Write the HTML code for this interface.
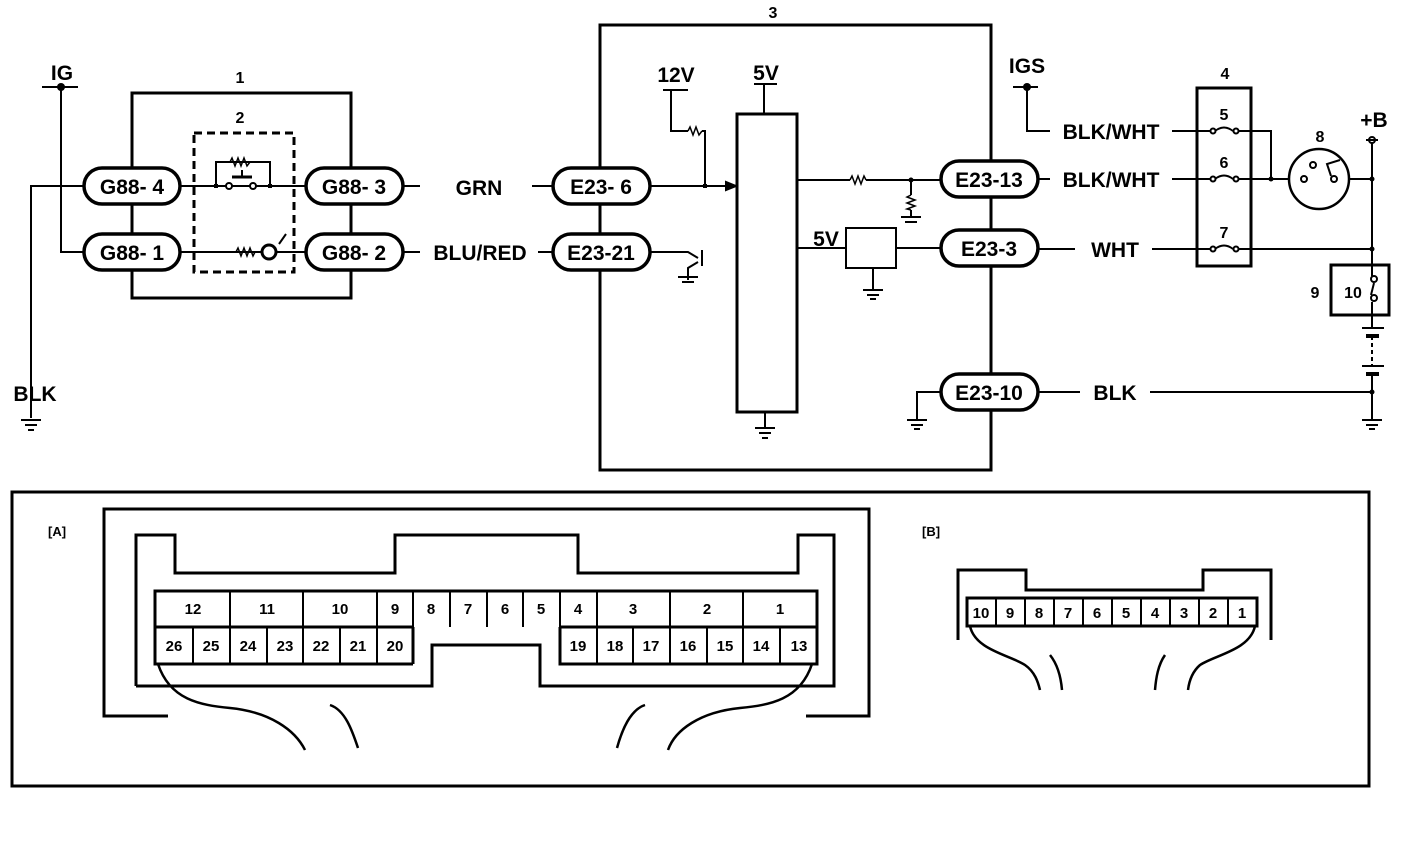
<!DOCTYPE html>
<html><head><style>
html,body{margin:0;padding:0;background:#fff;}
svg{display:block;}
text{font-family:"Liberation Sans",Arial,sans-serif;fill:#000;}
</style></head><body>
<svg width="1408" height="842" viewBox="0 0 1408 842" xmlns="http://www.w3.org/2000/svg">
<g fill="none" stroke="#000" stroke-width="2">
<line x1="42" y1="87" x2="78" y2="87"/>
<polyline points="61,87 61,252 85,252"/>
<polyline points="85,186 31,186 31,418"/>
<rect x="132" y="93" width="219" height="205" stroke-width="3"/>
<rect x="194" y="133" width="100" height="139" stroke-width="3" stroke-dasharray="8,5"/>
<line x1="180" y1="186" x2="305" y2="186"/>
<polyline points="216,186 216,162 270,162 270,186"/>
<line x1="180" y1="252" x2="305" y2="252"/>
<circle cx="229" cy="186" r="3" fill="#fff"/>
<circle cx="253" cy="186" r="3" fill="#fff"/>
<line x1="232" y1="177" x2="252" y2="177" stroke-width="3"/>
<line x1="242" y1="177" x2="242" y2="170"/>
<circle cx="269" cy="252" r="7" stroke-width="3" fill="#fff"/>
<line x1="279" y1="244" x2="286" y2="234"/>
<line x1="403" y1="186" x2="420" y2="186"/>
<line x1="403" y1="252" x2="420" y2="252"/>
<line x1="532" y1="186" x2="553" y2="186"/>
<line x1="538" y1="252" x2="553" y2="252"/>
<rect x="600" y="25" width="391" height="445" stroke-width="3"/>
<line x1="663" y1="90" x2="688" y2="90"/>
<polyline points="671,90 671,131 688,131"/>
<polyline points="702,131 705,131 705,186"/>
<line x1="650" y1="186" x2="728" y2="186"/>
<polygon points="736,186 726,182 726,190" fill="#000"/>
<line x1="754" y1="84" x2="777" y2="84"/>
<line x1="764" y1="84" x2="764" y2="114"/>
<rect x="737" y="114" width="60" height="298" stroke-width="3"/>
<line x1="765" y1="412" x2="765" y2="428"/>
<line x1="797" y1="180" x2="850" y2="180"/>
<line x1="866" y1="180" x2="941" y2="180"/>
<line x1="911" y1="180" x2="911" y2="195"/>
<line x1="911" y1="210" x2="911" y2="217"/>
<line x1="797" y1="248" x2="846" y2="248"/>
<rect x="846" y="228" width="50" height="40"/>
<line x1="896" y1="248" x2="941" y2="248"/>
<line x1="873" y1="268" x2="873" y2="290"/>
<polyline points="650,252 688,252 698,258"/>
<line x1="702" y1="250" x2="702" y2="266"/>
<polyline points="698,262 688,268 688,280"/>
<polyline points="941,392 917,392 917,420"/>
<line x1="1013" y1="87" x2="1038" y2="87"/>
<polyline points="1027,87 1027,131 1050,131"/>
<line x1="1172" y1="131" x2="1210" y2="131"/>
<line x1="1038" y1="179" x2="1050" y2="179"/>
<line x1="1172" y1="179" x2="1210" y2="179"/>
<line x1="1038" y1="249" x2="1075" y2="249"/>
<line x1="1152" y1="249" x2="1210" y2="249"/>
<rect x="1197" y="88" width="54" height="178" stroke-width="3"/>
<polyline points="1238,131 1271,131 1271,179"/>
<line x1="1238" y1="179" x2="1290" y2="179"/>
<line x1="1348" y1="179" x2="1372" y2="179"/>
<line x1="1238" y1="249" x2="1372" y2="249"/>
<circle cx="1319" cy="179" r="30" stroke-width="2.5"/>
<circle cx="1304" cy="179" r="3" fill="#fff"/>
<circle cx="1334" cy="179" r="3" fill="#fff"/>
<circle cx="1313" cy="165" r="3" fill="#fff"/>
<polyline points="1331,176 1327,164 1340,160"/>
<circle cx="1372" cy="140" r="3" fill="#fff"/>
<line x1="1366" y1="140" x2="1378" y2="140"/>
<line x1="1372" y1="143" x2="1372" y2="276"/>
<rect x="1331" y="265" width="58" height="50" stroke-width="3"/>
<circle cx="1374" cy="279" r="3" fill="#fff"/>
<circle cx="1374" cy="298" r="3" fill="#fff"/>
<line x1="1374" y1="283" x2="1371" y2="295"/>
<line x1="1372" y1="302" x2="1372" y2="328"/>
<line x1="1362" y1="328" x2="1384" y2="328"/>
<line x1="1366" y1="336" x2="1379" y2="336" stroke-width="4"/>
<line x1="1372" y1="336" x2="1372" y2="366" stroke-dasharray="4,3"/>
<line x1="1362" y1="366" x2="1384" y2="366"/>
<line x1="1366" y1="374" x2="1379" y2="374" stroke-width="4"/>
<line x1="1372" y1="374" x2="1372" y2="420"/>
<line x1="1038" y1="392" x2="1080" y2="392"/>
<line x1="1150" y1="392" x2="1372" y2="392"/>
</g>
<g fill="none" stroke="#000" stroke-width="1.5">
<polyline points="230,162 232,158 235,166 238,158 241,166 244,158 247,166 250,162"/>
<polyline points="236,252 238,248 241,256 244,248 247,256 250,248 253,256 255,252"/>
<polyline points="688,131 690,127 693,135 696,127 699,135 702,131"/>
<polyline points="850,180 852,176 855,184 858,176 861,184 864,176 866,180"/>
<polyline points="911,195 907,197 915,200 907,203 915,206 907,209 911,210"/>
</g>
<g fill="#000">
<circle cx="61" cy="87" r="4"/><circle cx="1027" cy="87" r="4"/>
<rect x="214" y="184" width="4" height="4"/><rect x="268" y="184" width="4" height="4"/>
<rect x="703" y="184" width="4" height="4"/>
<circle cx="911" cy="180" r="2.5"/><circle cx="1271" cy="179" r="2.5"/>
<circle cx="1372" cy="179" r="2.5"/><circle cx="1372" cy="249" r="2.5"/><circle cx="1372" cy="392" r="2.5"/>
</g>
<g fill="none" stroke="#000" stroke-width="2">
<circle cx="1213" cy="131" r="2.5" fill="#fff"/><circle cx="1236" cy="131" r="2.5" fill="#fff"/><path d="M1215,131 Q1224,124 1233,131"/>
<circle cx="1213" cy="179" r="2.5" fill="#fff"/><circle cx="1236" cy="179" r="2.5" fill="#fff"/><path d="M1215,179 Q1224,172 1233,179"/>
<circle cx="1213" cy="249" r="2.5" fill="#fff"/><circle cx="1236" cy="249" r="2.5" fill="#fff"/><path d="M1215,249 Q1224,242 1233,249"/>
</g>
<g stroke="#000" stroke-width="2">
<line x1="21" y1="420" x2="41" y2="420"/><line x1="25" y1="425" x2="37" y2="425"/><line x1="28" y1="430" x2="34" y2="430"/>
<line x1="755" y1="428" x2="775" y2="428"/><line x1="759" y1="433" x2="771" y2="433"/><line x1="762" y1="438" x2="768" y2="438"/>
<line x1="901" y1="217" x2="921" y2="217"/><line x1="905" y1="222" x2="917" y2="222"/>
<line x1="863" y1="290" x2="883" y2="290"/><line x1="867" y1="295" x2="879" y2="295"/><line x1="870" y1="299" x2="876" y2="299"/>
<line x1="678" y1="277" x2="698" y2="277"/><line x1="682" y1="282" x2="694" y2="282"/>
<line x1="907" y1="420" x2="927" y2="420"/><line x1="911" y1="425" x2="923" y2="425"/><line x1="914" y1="429" x2="920" y2="429"/>
<line x1="1362" y1="420" x2="1382" y2="420"/><line x1="1366" y1="425" x2="1378" y2="425"/><line x1="1369" y1="429" x2="1375" y2="429"/>
</g>
<g fill="#fff" stroke="#000" stroke-width="3.5">
<rect x="84" y="168" width="96" height="36" rx="18"/>
<rect x="84" y="234" width="96" height="36" rx="18"/>
<rect x="306" y="168" width="97" height="36" rx="18"/>
<rect x="306" y="234" width="97" height="36" rx="18"/>
<rect x="553" y="168" width="97" height="36" rx="18"/>
<rect x="553" y="234" width="97" height="36" rx="18"/>
<rect x="941" y="161" width="97" height="36" rx="18"/>
<rect x="941" y="230" width="97" height="36" rx="18"/>
<rect x="941" y="374" width="97" height="36" rx="18"/>
</g>
<g font-size="21" text-anchor="middle" font-weight="bold">
<text x="132" y="194">G88- 4</text><text x="132" y="260">G88- 1</text>
<text x="354" y="194">G88- 3</text><text x="354" y="260">G88- 2</text>
<text x="601" y="194">E23- 6</text><text x="601" y="260">E23-21</text>
<text x="989" y="187">E23-13</text><text x="989" y="256">E23-3</text><text x="989" y="400">E23-10</text>
<text x="479" y="195">GRN</text><text x="480" y="260">BLU/RED</text>
<text x="35" y="401">BLK</text><text x="62" y="80">IG</text>
<text x="1111" y="139">BLK/WHT</text><text x="1111" y="187">BLK/WHT</text>
<text x="1115" y="257">WHT</text><text x="1115" y="400">BLK</text>
<text x="1027" y="73">IGS</text><text x="1374" y="127">+B</text>
<text x="676" y="82">12V</text><text x="766" y="80">5V</text><text x="826" y="246">5V</text>
</g>
<g font-size="16" text-anchor="middle" font-weight="bold">
<text x="240" y="83">1</text><text x="240" y="123">2</text><text x="773" y="18">3</text>
<text x="1225" y="79">4</text><text x="1224" y="120">5</text><text x="1224" y="168">6</text><text x="1224" y="238">7</text>
<text x="1320" y="142">8</text><text x="1315" y="298">9</text><text x="1353" y="298">10</text>
</g>
<rect x="12" y="492" width="1357" height="294" fill="none" stroke="#000" stroke-width="3"/>
<g font-size="13" font-weight="bold"><text x="48" y="536">[A]</text><text x="922" y="536">[B]</text></g>
<g fill="none" stroke="#000" stroke-width="3">
<polyline points="168,716 104,716 104,509 869,509 869,716 806,716"/>
<polyline points="136,686 136,535 175,535 175,573 395,573 395,535 578,535 578,573 798,573 798,535 834,535 834,686 540,686 540,645 432,645 432,686 136,686"/>
<polyline points="413,664 155,664 155,591 817,591 817,664 560,664 560,627"/>
<line x1="155" y1="627" x2="413" y2="627"/>
<line x1="560" y1="627" x2="817" y2="627"/>
<line x1="413" y1="627" x2="413" y2="664"/>
</g>
<g stroke="#000" stroke-width="2">
<line x1="230" y1="591" x2="230" y2="664"/><line x1="303" y1="591" x2="303" y2="664"/><line x1="377" y1="591" x2="377" y2="664"/>
<line x1="413" y1="591" x2="413" y2="627"/><line x1="450" y1="591" x2="450" y2="627"/><line x1="487" y1="591" x2="487" y2="627"/>
<line x1="523" y1="591" x2="523" y2="627"/><line x1="560" y1="591" x2="560" y2="627"/><line x1="597" y1="591" x2="597" y2="664"/>
<line x1="670" y1="591" x2="670" y2="664"/><line x1="743" y1="591" x2="743" y2="664"/>
<line x1="193" y1="627" x2="193" y2="664"/><line x1="267" y1="627" x2="267" y2="664"/><line x1="340" y1="627" x2="340" y2="664"/>
<line x1="633" y1="627" x2="633" y2="664"/><line x1="707" y1="627" x2="707" y2="664"/><line x1="780" y1="627" x2="780" y2="664"/>
</g>
<g font-size="15" font-weight="bold" text-anchor="middle">
<text x="193" y="614">12</text><text x="267" y="614">11</text><text x="340" y="614">10</text><text x="395" y="614">9</text>
<text x="431" y="614">8</text><text x="468" y="614">7</text><text x="505" y="614">6</text><text x="541" y="614">5</text>
<text x="578" y="614">4</text><text x="633" y="614">3</text><text x="707" y="614">2</text><text x="780" y="614">1</text>
<text x="174" y="651">26</text><text x="211" y="651">25</text><text x="248" y="651">24</text><text x="285" y="651">23</text>
<text x="321" y="651">22</text><text x="358" y="651">21</text><text x="395" y="651">20</text>
<text x="578" y="651">19</text><text x="615" y="651">18</text><text x="651" y="651">17</text><text x="688" y="651">16</text>
<text x="725" y="651">15</text><text x="761" y="651">14</text><text x="799" y="651">13</text>
</g>
<g fill="none" stroke="#000" stroke-width="2.5">
<path d="M158,664 C170,700 200,705 230,708 C270,712 295,730 305,750"/>
<path d="M330,705 C345,710 352,730 358,748"/>
<path d="M645,705 C630,710 622,730 617,748"/>
<path d="M812,664 C800,700 770,705 740,708 C700,712 675,730 668,750"/>
</g>
<g fill="none" stroke="#000" stroke-width="3">
<polyline points="958,640 958,570 1026,570 1026,590 1203,590 1203,570 1271,570 1271,640"/>
<rect x="967" y="598" width="290" height="28"/>
</g>
<g stroke="#000" stroke-width="2">
<line x1="996" y1="598" x2="996" y2="626"/><line x1="1025" y1="598" x2="1025" y2="626"/><line x1="1054" y1="598" x2="1054" y2="626"/>
<line x1="1083" y1="598" x2="1083" y2="626"/><line x1="1112" y1="598" x2="1112" y2="626"/><line x1="1141" y1="598" x2="1141" y2="626"/>
<line x1="1170" y1="598" x2="1170" y2="626"/><line x1="1199" y1="598" x2="1199" y2="626"/><line x1="1228" y1="598" x2="1228" y2="626"/>
</g>
<g font-size="15" font-weight="bold" text-anchor="middle">
<text x="981" y="618">10</text><text x="1010" y="618">9</text><text x="1039" y="618">8</text><text x="1068" y="618">7</text>
<text x="1097" y="618">6</text><text x="1126" y="618">5</text><text x="1155" y="618">4</text><text x="1184" y="618">3</text>
<text x="1213" y="618">2</text><text x="1242" y="618">1</text>
</g>
<g fill="none" stroke="#000" stroke-width="2.5">
<path d="M970,626 C975,650 1010,655 1025,665 C1035,672 1038,682 1040,690"/>
<path d="M1050,655 C1058,665 1061,678 1062,690"/>
<path d="M1165,655 C1158,665 1156,678 1155,690"/>
<path d="M1255,626 C1250,650 1215,655 1200,665 C1192,672 1189,682 1188,690"/>
</g>
</svg>
</body></html>
